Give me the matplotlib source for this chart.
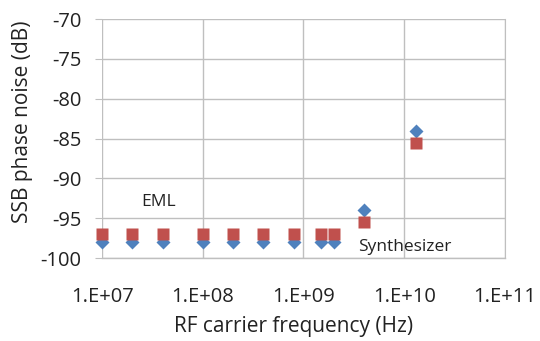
import numpy as np
from matplotlib import pyplot as plt

plt.rcParams['font.family'] = ['Open Sans', 'DejaVu Sans']
plt.rcParams['axes.unicode_minus'] = False

#--- data ---------------------------------------------------------------------#
freq = [1e7, 2e7, 4e7, 1e8, 2e8, 4e8, 8e8, 1.5e9, 2e9, 4e9, 1.3e10]
synth_noise = [-98, -98, -98, -98, -98, -98, -98, -98, -98, -94, -84]
eml_noise = [-97, -97, -97, -97, -97, -97, -97, -97, -97, -95.5, -85.5]

xticks = [1e7, 1e8, 1e9, 1e10, 1e11]
xtick_labels = ['1.E+07', '1.E+08', '1.E+09', '1.E+10', '1.E+11']
yticks = [-100, -95, -90, -85, -80, -75, -70]

#--- plot ---------------------------------------------------------------------#
fig = plt.figure(figsize=(5.4, 3.41), dpi=100)
ax = fig.add_axes([0.189, 0.243, 0.746, 0.701])

ax.plot(freq, synth_noise, 'D', color='#4F81BD', ms=7.5, mec='none', zorder=3, clip_on=False)
ax.plot(freq, eml_noise, 's', color='#C0504D', ms=8.5, mec='none', zorder=4, clip_on=False)

ax.set_xscale('log')
ax.set_xlim(1e7, 1e11)
ax.set_ylim(-100, -70)
ax.set_xticks(xticks)
ax.set_xticklabels(xtick_labels)
ax.minorticks_off()
ax.set_yticks(yticks)

ax.grid(True, color='#BFBFBF', linewidth=1.0)
ax.set_axisbelow(True)
for s in ['top', 'left']:
    ax.spines[s].set_visible(False)
ax.spines['right'].set_color('#BFBFBF')
ax.spines['bottom'].set_color('#BFBFBF')
ax.spines['bottom'].set_linewidth(1.0)

ax.tick_params(axis='y', length=5, color='#BFBFBF', labelsize=14.5, pad=10, labelcolor='#222222')
ax.tick_params(axis='x', length=0, labelsize=14.5, pad=21, labelcolor='#222222')

ax.set_xlabel('RF carrier frequency (Hz)', fontsize=15, color='#222222', va='center')
ax.xaxis.set_label_coords(0.476, -0.285)
ax.set_ylabel('SSB phase noise (dB)', fontsize=15, color='#222222', va='center')
ax.yaxis.set_label_coords(-0.1985, 0.569)

ax.text(3.67e7, -92.9, 'EML', fontsize=12.5, ha='center', va='center', color='#222222')
ax.text(3.5e9, -98.6, 'Synthesizer', fontsize=12.5, ha='left', va='center', color='#222222')

fig.savefig('out.png', dpi=100)
